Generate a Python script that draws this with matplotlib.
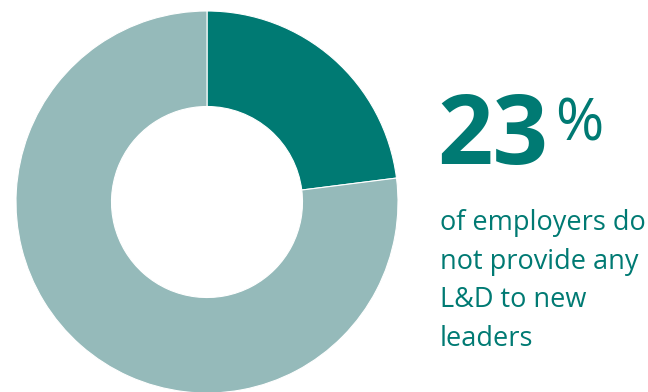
import matplotlib.pyplot as plt

# share of employers
labels = ["no L&D for new leaders", "provide L&D"]
shares = [23, 77]
colours = ["#007A73", "#95BABA"]

big_number = "23"
big_sign = "%"
caption_lines = ["of employers do", "not provide any", "L&D to new", "leaders"]

W, H = 648, 392
fig = plt.figure(figsize=(W / 100, H / 100), dpi=100)

# donut, centre around (207, 202) px, outer radius ~191 px
cx, cy, r = 207, 202, 191
ax = fig.add_axes([(cx - r) / W, (H - cy - r) / H, 2 * r / W, 2 * r / H])
ax.pie(shares, colors=colours, startangle=90, counterclock=False,
       radius=1.0, wedgeprops=dict(width=0.5, edgecolor="white", linewidth=0.8))
ax.set_xlim(-1, 1)
ax.set_ylim(-1, 1)
ax.set_aspect("equal")
ax.axis("off")

font = "Open Sans"
fig.text(437 / W, 1 - 164 / H, big_number, fontsize=70, fontweight="bold",
         family=font, color=colours[0], ha="left", va="baseline")
fig.text(555 / W, 1 - 141 / H, big_sign, fontsize=42, family=font,
         color=colours[0], ha="left", va="baseline")

# caption lines, baselines ~38.5 px apart
for i, line in enumerate(caption_lines):
    fig.text(440 / W, 1 - (230 + 38.5 * i) / H, line, fontsize=19.5,
             family=font, color=colours[0], ha="left", va="baseline")

fig.savefig("out.png", dpi=100)
